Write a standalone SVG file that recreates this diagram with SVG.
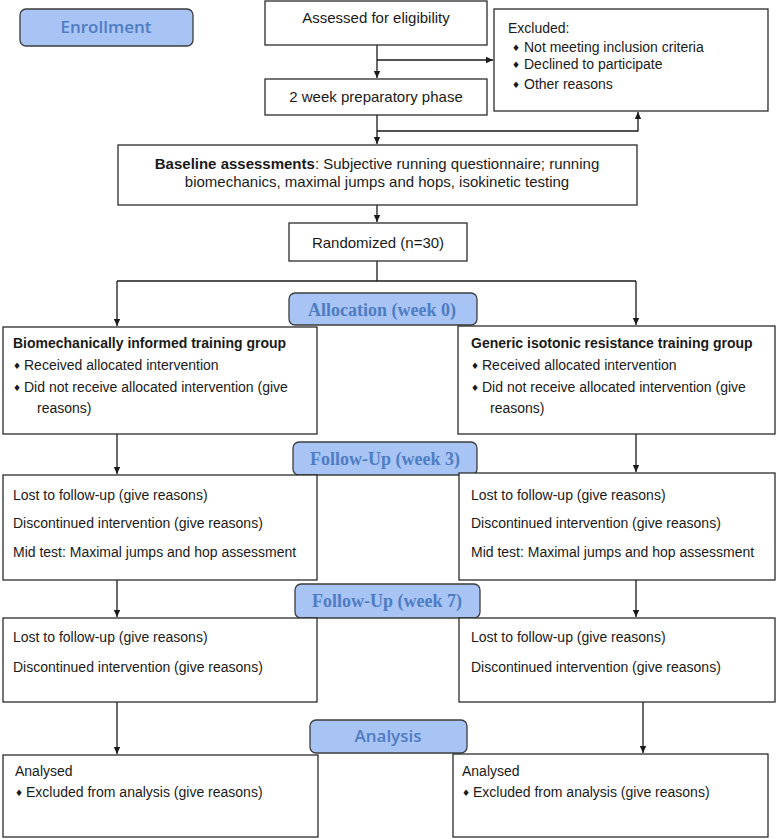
<svg xmlns="http://www.w3.org/2000/svg" width="778" height="839" viewBox="0 0 778 839">
<style>
  .box { fill: #ffffff; stroke: #2b2b2b; stroke-width: 1.3; }
  .lbl { fill: #a8c4f4; stroke: #3c3c3c; stroke-width: 1.3; }
  .t { font-family: "Liberation Sans", Arial, sans-serif; font-size: 14px; fill: #1a1a1a; }
  .tl { font-family: "Liberation Sans", Arial, sans-serif; font-size: 15px; fill: #1a1a1a; }
  .b { font-weight: bold; }
  .bul { font-family: "DejaVu Sans", "Liberation Sans", sans-serif; font-size: 9px; fill: #1a1a1a; }
  .ls { font-family: "Open Sans", "Liberation Sans", sans-serif; font-size: 17px; font-weight: 600; fill: #4f7cc2; }
  .lt { font-family: "Liberation Serif", "Times New Roman", serif; font-size: 18px; font-weight: bold; fill: #4f7cc2; }
  .c { stroke: #1a1a1a; stroke-width: 1.3; fill: none; }
</style>
<defs>
  <marker id="ah" markerWidth="8" markerHeight="8" refX="7" refY="4" orient="auto" markerUnits="userSpaceOnUse">
    <path d="M0,0.8 L7,4 L0,7.2 Z" fill="#1a1a1a"/>
  </marker>
</defs>
<rect width="778" height="839" fill="#ffffff"/>

<g id="connectors">
  <path class="c" d="M377,45 V78" marker-end="url(#ah)"/>
  <path class="c" d="M377,60 H493" marker-end="url(#ah)"/>
  <path class="c" d="M377,115 V144" marker-end="url(#ah)"/>
  <path class="c" d="M377,131 H638 V112" marker-end="url(#ah)"/>
  <path class="c" d="M377,205 V222" marker-end="url(#ah)"/>
  <path class="c" d="M377,261 V281"/>
  <path class="c" d="M117,281 H636"/>
  <path class="c" d="M117,281 V326" marker-end="url(#ah)"/>
  <path class="c" d="M636,281 V325" marker-end="url(#ah)"/>
  <path class="c" d="M117,434 V474" marker-end="url(#ah)"/>
  <path class="c" d="M636,434 V472" marker-end="url(#ah)"/>
  <path class="c" d="M117,580 V617" marker-end="url(#ah)"/>
  <path class="c" d="M636,580 V617" marker-end="url(#ah)"/>
  <path class="c" d="M117,702 V754" marker-end="url(#ah)"/>
  <path class="c" d="M643,702 V753" marker-end="url(#ah)"/>
</g>

<g id="enrollment">
  <rect class="lbl" x="20" y="9" width="173" height="37" rx="6"/>
  <text class="ls" x="106" y="33" text-anchor="middle">Enrollment</text>
</g>

<g id="assessed">
  <rect class="box" x="265" y="1" width="222" height="44"/>
  <text class="tl" x="376" y="23" text-anchor="middle">Assessed for eligibility</text>
</g>

<g id="excluded">
  <rect class="box" x="494" y="9" width="274" height="102"/>
  <text class="t" x="508" y="33">Excluded:</text>
  <text class="bul" x="512" y="51">♦</text>
  <text class="t" x="524" y="52">Not meeting inclusion criteria</text>
  <text class="bul" x="512" y="68">♦</text>
  <text class="t" x="524" y="69">Declined to participate</text>
  <text class="bul" x="512" y="88">♦</text>
  <text class="t" x="524" y="89">Other reasons</text>
</g>

<g id="preparatory">
  <rect class="box" x="265" y="79" width="222" height="36"/>
  <text class="tl" x="376" y="102" text-anchor="middle">2 week preparatory phase</text>
</g>

<g id="baseline">
  <rect class="box" x="118" y="145" width="519" height="60"/>
  <text class="tl" x="377" y="169" text-anchor="middle"><tspan class="b">Baseline assessments</tspan>: Subjective running questionnaire; running</text>
  <text class="tl" x="377" y="187" text-anchor="middle">biomechanics, maximal jumps and hops, isokinetic testing</text>
</g>

<g id="randomized">
  <rect class="box" x="289" y="223" width="178" height="38"/>
  <text class="tl" x="378" y="248" text-anchor="middle">Randomized (n=30)</text>
</g>

<g id="allocation">
  <rect class="lbl" x="289" y="293" width="188" height="32" rx="6"/>
  <text class="lt" x="382" y="316" text-anchor="middle">Allocation (week 0)</text>
</g>

<g id="group-left">
  <rect class="box" x="3" y="327" width="314" height="107"/>
  <text class="t b" x="13" y="348">Biomechanically informed training group</text>
  <text class="bul" x="13" y="369">♦</text>
  <text class="t" x="24" y="370">Received allocated intervention</text>
  <text class="bul" x="13" y="391">♦</text>
  <text class="t" x="24" y="392">Did not receive allocated intervention (give</text>
  <text class="t" x="37" y="413">reasons)</text>
</g>

<g id="group-right">
  <rect class="box" x="458" y="326" width="317" height="108"/>
  <text class="t b" x="471" y="348">Generic isotonic resistance training group</text>
  <text class="bul" x="471" y="369">♦</text>
  <text class="t" x="482" y="370">Received allocated intervention</text>
  <text class="bul" x="471" y="391">♦</text>
  <text class="t" x="482" y="392">Did not receive allocated intervention (give</text>
  <text class="t" x="490" y="413">reasons)</text>
</g>

<g id="followup3">
  <rect class="lbl" x="293" y="442" width="184" height="33" rx="6"/>
  <text class="lt" x="385" y="465" text-anchor="middle">Follow-Up (week 3)</text>
</g>

<g id="week3-left">
  <rect class="box" x="3" y="475" width="314" height="105"/>
  <text class="t" x="13" y="500">Lost to follow-up (give reasons)</text>
  <text class="t" x="13" y="528">Discontinued intervention (give reasons)</text>
  <text class="t" x="13" y="557">Mid test: Maximal jumps and hop assessment</text>
</g>

<g id="week3-right">
  <rect class="box" x="459" y="473" width="316" height="107"/>
  <text class="t" x="471" y="500">Lost to follow-up (give reasons)</text>
  <text class="t" x="471" y="528">Discontinued intervention (give reasons)</text>
  <text class="t" x="471" y="557">Mid test: Maximal jumps and hop assessment</text>
</g>

<g id="followup7">
  <rect class="lbl" x="295" y="584" width="185" height="34" rx="6"/>
  <text class="lt" x="387" y="607" text-anchor="middle">Follow-Up (week 7)</text>
</g>

<g id="week7-left">
  <rect class="box" x="3" y="618" width="314" height="84"/>
  <text class="t" x="13" y="642">Lost to follow-up (give reasons)</text>
  <text class="t" x="13" y="672">Discontinued intervention (give reasons)</text>
</g>

<g id="week7-right">
  <rect class="box" x="459" y="618" width="316" height="84"/>
  <text class="t" x="471" y="642">Lost to follow-up (give reasons)</text>
  <text class="t" x="471" y="672">Discontinued intervention (give reasons)</text>
</g>

<g id="analysis">
  <rect class="lbl" x="310" y="720" width="157" height="33" rx="6"/>
  <text class="ls" x="388" y="742" text-anchor="middle">Analysis</text>
</g>

<g id="analysed-left">
  <rect class="box" x="3" y="755" width="315" height="82"/>
  <text class="t" x="15" y="776">Analysed</text>
  <text class="bul" x="15" y="796">♦</text>
  <text class="t" x="26" y="797">Excluded from analysis (give reasons)</text>
</g>

<g id="analysed-right">
  <rect class="box" x="453" y="754" width="315" height="83"/>
  <text class="t" x="462" y="776">Analysed</text>
  <text class="bul" x="462" y="796">♦</text>
  <text class="t" x="473" y="797">Excluded from analysis (give reasons)</text>
</g>
</svg>
